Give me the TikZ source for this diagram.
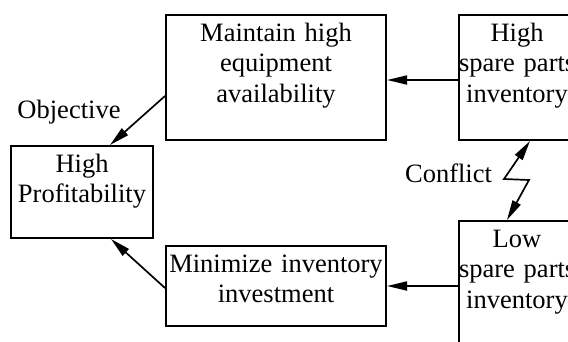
\documentclass[tikz,border=0pt]{standalone}
\usepackage{fontspec}
\setmainfont{Liberation Serif}
\usetikzlibrary{positioning, arrows.meta}

\begin{document}
\begin{tikzpicture}[
    x=1pt, y=-1pt, % one unit per pixel, y axis pointing down
    % Styles for the boxes and lines
    block/.style={rectangle, draw, line width=2pt, align=center,
        inner xsep=0pt, inner ysep=0pt,
        text height=26pt, % first line sits near the top of the box
        font=\fontsize{26.5pt}{30.5pt}\selectfont},
    label/.style={inner sep=0pt, font=\fontsize{26.5pt}{30.5pt}\selectfont},
    line/.style={
        draw, line width=1.7pt,
        -{Triangle[length=20pt,width=9pt]}
    },
    twoway/.style={ % Style for the conflict link, heads at both ends
        line,
        {Triangle[length=20pt,width=9pt]}-{Triangle[length=20pt,width=9pt]}
    }
]

% Fix the frame of the picture
\useasboundingbox (0,0) rectangle (568,341);
\clip (0,0) rectangle (568,341);

% Boxes
\node [block, text width=142pt, text depth=66pt, anchor=north west] (profit) at (10,145) {High\\Profitability};
\node [block, text width=220pt, text depth=99pt, anchor=north west] (maint) at (165,14) {Maintain high\\equipment\\availability};
\node [block, text width=116pt, text depth=99pt, right=71pt of maint] (highinv) {High\\spare~parts\\inventory};
\node [block, text width=220pt, text depth=54pt, below=104pt of maint] (minim) {Minimize~inventory\\investment};
\node [block, text width=116pt, text depth=150pt, anchor=north west] (lowinv) at (458,220) {Low\\spare~parts\\inventory};

% Labels
\node [label, anchor=base] (objective) at (69,118) {Objective};
\node [label, anchor=base] (conflict) at (448.5,182) {Conflict};

% Corners of the zigzag
\coordinate (zigleft) at (504,179);
\coordinate (zigright) at (529,180);

% Connectors
\path [line] ([yshift=-2.5pt]highinv.west) -- ([yshift=-2.5pt]maint.east);
\path [line] (lowinv.west |- minim.east) -- (minim.east);
\path [line] ([yshift=-18.5pt]maint.west) -- ([xshift=28pt]profit.north);
\path [line] ([yshift=-2pt]minim.west) -- ([xshift=29pt]profit.south);
\path [twoway] ([xshift=13pt]highinv.south) -- (zigleft) -- (zigright) -- ([xshift=-10pt]lowinv.north);

\end{tikzpicture}
\end{document}
